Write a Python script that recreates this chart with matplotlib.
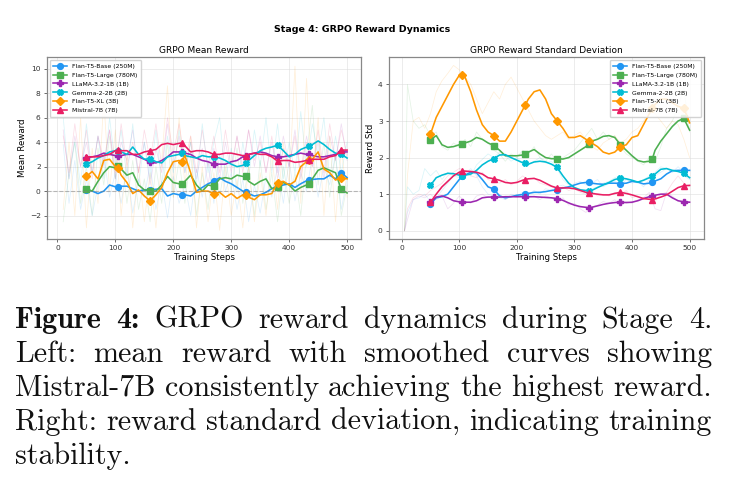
import numpy as np
import matplotlib
matplotlib.use("Agg")
import matplotlib.pyplot as plt
from matplotlib.transforms import IdentityTransform

# model names / styles
models = ["Flan-T5-Base (250M)", "Flan-T5-Large (780M)", "LLaMA-3.2-1B (1B)",
          "Gemma-2-2B (2B)", "Flan-T5-XL (3B)", "Mistral-7B (7B)"]
colors = ["#2196F3", "#4CAF50", "#9C27B0", "#00BCD4", "#FF9800", "#E91E63"]
markers = ["o", "s", "P", "X", "D", "^"]

# steps of the smoothed curves, markers every 55 steps
smooth_steps = [50, 60, 70, 80, 90, 100, 105, 110, 120, 130,
                140, 150, 160, 170, 180, 190, 200, 210, 215, 220,
                230, 240, 250, 260, 270, 280, 290, 300, 310, 320,
                325, 330, 340, 350, 360, 370, 380, 390, 400, 410,
                420, 430, 435, 440, 450, 460, 470, 480, 490, 500]
marker_steps = [50, 105, 160, 215, 270, 325, 380, 435, 490]

# smoothed mean reward
mean_base = [0.10, 0.00, -0.20, 0.00, 0.50, 0.35, 0.35, 0.40, 0.40, 0.20,
             0.00, 0.10, 0.10, 0.15, 0.20, -0.40, -0.20, -0.30, -0.35, -0.30,
             -0.40, 0.00, 0.30, 0.60, 0.80, 1.10, 0.80, 0.60, 0.30, 0.00,
             -0.10, -0.20, -0.40, -0.30, -0.10, 0.20, 0.40, 0.50, 0.60, 0.30,
             0.60, 0.85, 0.90, 0.95, 1.00, 1.00, 1.30, 1.00, 1.50, 1.10]
mean_large = [0.20, 0.00, 0.80, 1.50, 2.00, 1.90, 2.05, 1.80, 1.30, 1.50,
              0.50, 0.10, 0.00, 0.00, 0.50, 1.20, 0.70, 0.60, 0.60, 0.80,
              1.30, 0.50, 0.00, 0.50, 0.40, 1.00, 1.10, 1.00, 1.30, 1.20,
              1.20, 0.80, 0.50, 0.80, 1.00, 0.20, 0.30, 0.70, 0.50, 0.00,
              0.30, 0.50, 0.60, 1.00, 1.70, 1.90, 1.70, 1.50, 0.15, -0.15]
mean_llama = [2.70, 2.80, 2.90, 3.10, 3.00, 2.90, 2.90, 2.90, 3.00, 3.00,
              2.80, 2.60, 2.35, 2.30, 2.50, 2.80, 3.20, 3.20, 3.20, 3.10,
              3.00, 2.70, 2.50, 2.40, 2.20, 2.20, 2.20, 2.40, 2.50, 2.80,
              2.90, 3.00, 3.10, 3.20, 3.10, 2.90, 2.80, 2.80, 2.90, 3.00,
              3.10, 3.00, 3.00, 2.90, 2.80, 2.80, 2.90, 3.00, 3.20, 3.20]
mean_gemma = [2.20, 2.40, 2.70, 2.90, 3.20, 3.30, 3.30, 3.20, 3.00, 3.60,
              3.00, 2.60, 2.65, 2.40, 2.30, 2.80, 2.90, 3.00, 3.10, 2.90,
              2.80, 2.70, 2.90, 2.80, 2.80, 2.70, 2.50, 2.20, 2.00, 2.10,
              2.30, 2.50, 2.90, 3.30, 3.50, 3.60, 3.75, 3.30, 2.80, 3.00,
              3.40, 3.60, 3.70, 3.80, 4.10, 3.80, 3.40, 3.10, 3.00, 2.70]
mean_xl = [1.20, 1.60, 1.00, 2.50, 2.60, 2.00, 1.85, 1.30, 0.70, -0.20,
           0.10, -0.40, -0.80, -0.30, 0.30, 1.50, 2.40, 2.50, 2.40, 2.90,
           1.50, -0.10, 0.00, 0.00, -0.20, -0.10, -0.50, -0.20, -0.60, -0.30,
           -0.35, -0.50, -0.70, -0.30, -0.30, -0.20, 0.70, 0.80, 0.50, 0.80,
           2.00, 2.40, 2.50, 2.60, 3.20, 1.80, 1.50, 0.90, 1.10, 1.00]
mean_mistral = [2.80, 2.80, 2.80, 2.90, 3.00, 3.30, 3.35, 3.30, 3.30, 3.00,
                3.00, 3.20, 3.30, 3.40, 3.80, 3.90, 3.80, 3.90, 3.95, 3.70,
                3.20, 3.30, 3.30, 3.20, 3.00, 3.00, 3.10, 3.10, 3.00, 2.90,
                2.90, 3.00, 3.10, 3.00, 3.00, 2.80, 2.45, 2.50, 2.50, 2.35,
                2.40, 2.50, 2.50, 2.60, 2.60, 2.60, 2.80, 2.90, 3.35, 3.35]

# smoothed reward std
std_base = [0.73, 0.90, 0.93, 1.00, 1.20, 1.40, 1.49, 1.52, 1.60, 1.58,
            1.40, 1.20, 1.14, 0.95, 0.90, 0.93, 0.97, 0.99, 1.00, 1.02,
            1.05, 1.05, 1.07, 1.10, 1.12, 1.17, 1.20, 1.25, 1.30, 1.32,
            1.32, 1.30, 1.28, 1.27, 1.30, 1.30, 1.29, 1.30, 1.35, 1.33,
            1.28, 1.30, 1.34, 1.36, 1.42, 1.55, 1.64, 1.65, 1.65, 1.65]
std_large = [2.49, 2.60, 2.35, 2.28, 2.30, 2.35, 2.37, 2.40, 2.45, 2.55,
             2.50, 2.40, 2.33, 2.20, 2.05, 2.05, 2.05, 2.07, 2.09, 2.15,
             2.22, 2.10, 2.00, 1.97, 1.97, 1.96, 2.00, 2.10, 2.20, 2.30,
             2.37, 2.45, 2.50, 2.58, 2.60, 2.55, 2.35, 2.20, 2.05, 1.92,
             1.88, 1.90, 1.95, 2.20, 2.45, 2.65, 2.85, 3.00, 3.07, 2.75]
std_llama = [0.78, 0.92, 0.95, 0.90, 0.82, 0.79, 0.79, 0.78, 0.78, 0.82,
             0.90, 0.92, 0.92, 0.92, 0.93, 0.93, 0.93, 0.93, 0.93, 0.93,
             0.93, 0.92, 0.91, 0.90, 0.88, 0.83, 0.76, 0.70, 0.66, 0.64,
             0.63, 0.64, 0.68, 0.72, 0.75, 0.77, 0.78, 0.77, 0.78, 0.82,
             0.88, 0.93, 0.95, 0.97, 1.00, 1.00, 0.90, 0.82, 0.79, 0.78]
std_gemma = [1.24, 1.45, 1.52, 1.57, 1.56, 1.52, 1.51, 1.52, 1.55, 1.65,
             1.80, 1.90, 1.97, 2.07, 2.08, 2.00, 1.93, 1.86, 1.84, 1.82,
             1.88, 1.90, 1.88, 1.82, 1.73, 1.50, 1.30, 1.18, 1.12, 1.10,
             1.10, 1.10, 1.18, 1.25, 1.32, 1.40, 1.44, 1.42, 1.38, 1.33,
             1.38, 1.45, 1.50, 1.55, 1.68, 1.70, 1.65, 1.62, 1.57, 1.45]
std_xl = [2.64, 3.10, 3.40, 3.70, 4.00, 4.25, 4.25, 4.20, 3.80, 3.30,
          2.90, 2.70, 2.60, 2.45, 2.45, 2.70, 3.00, 3.30, 3.45, 3.60,
          3.80, 3.85, 3.60, 3.20, 3.00, 2.80, 2.55, 2.55, 2.60, 2.50,
          2.45, 2.40, 2.30, 2.15, 2.10, 2.15, 2.30, 2.35, 2.55, 2.60,
          2.90, 3.20, 3.35, 3.45, 3.60, 3.60, 3.50, 3.40, 3.35, 2.95]
std_mistral = [0.78, 1.00, 1.20, 1.35, 1.50, 1.60, 1.63, 1.63, 1.62, 1.60,
               1.55, 1.45, 1.42, 1.38, 1.32, 1.30, 1.32, 1.38, 1.40, 1.42,
               1.43, 1.38, 1.30, 1.22, 1.17, 1.17, 1.17, 1.15, 1.10, 1.05,
               1.03, 1.02, 1.00, 0.98, 0.98, 1.02, 1.05, 1.02, 0.98, 0.93,
               0.88, 0.86, 0.85, 0.87, 0.92, 0.98, 1.08, 1.18, 1.23, 1.24]

# raw (unsmoothed) mean reward, every 10 steps
raw_steps = list(range(10, 501, 10))
raw_base = [3.8, -1.0, 2.5, -1.5, 1.0, -2.0, 0.5, 3.0, -0.5, 1.5,
            -1.0, 2.0, -1.8, 1.0, -0.5, 2.2, -1.5, 0.8, -2.2, 1.2,
            -1.0, 0.5, -2.0, 1.8, -0.5, 2.5, -1.0, 3.0, 0.0, 1.5,
            -1.5, 1.0, -2.5, 0.5, -1.8, 1.2, -0.5, 2.0, -1.0, 2.5,
            -0.8, 1.5, 0.0, 2.8, -0.5, 2.0, 0.5, 3.0, -1.5, 1.0]
raw_large = [-2.5, 1.5, 4.0, -1.0, 2.0, -2.0, 3.5, 0.5, 4.5, 1.0,
             3.0, -1.0, 2.5, -1.5, 1.0, -2.5, 2.0, -1.0, 4.0, -0.5,
             2.5, -1.0, 3.0, -2.0, 1.5, -1.5, 3.0, -0.5, 2.5, 0.0,
             3.5, -1.0, 2.0, -2.0, 2.5, -1.5, 1.5, -2.5, 2.0, -1.0,
             1.5, -2.0, 3.0, 7.0, 0.5, 4.0, -0.5, 3.0, -2.0, 0.5]
raw_llama = [5.0, 1.0, 4.5, 2.0, 4.0, 1.5, 4.5, 2.0, 5.0, 1.0,
             4.0, 2.5, 5.0, 1.5, 4.0, 0.5, 3.5, 1.5, 5.5, 2.0,
             4.5, 1.5, 4.0, 1.0, 3.5, 0.5, 3.5, 1.0, 4.0, 1.5,
             4.5, 2.0, 5.0, 2.0, 4.5, 1.5, 4.0, 1.5, 4.5, 2.0,
             5.0, 1.5, 4.5, 2.0, 4.0, 1.0, 4.5, 2.5, 5.5, 2.5]
raw_gemma = [6.0, 1.0, 4.0, 0.5, 5.5, 1.5, 4.5, 1.0, 6.0, 2.0,
             5.0, 1.0, 5.5, 0.5, 4.0, 1.0, 5.0, 0.5, 4.5, 1.5,
             5.0, 1.5, 4.0, 0.5, 5.5, 1.5, 4.0, 6.0, 1.0, 3.5,
             0.0, 4.0, 1.0, 5.0, 2.0, 6.0, 1.5, 5.5, 1.0, 4.0,
             1.5, 6.5, 2.0, 5.5, 3.0, 6.0, 1.0, 4.5, 1.5, 4.0]
raw_xl = [-1.5, 4.0, -2.0, 6.0, -3.0, 3.5, -1.0, 7.5, 0.0, 5.0,
          -2.0, 3.0, -3.0, 2.0, -2.5, 1.5, -3.0, 2.5, 8.6, -0.5,
          6.0, 0.5, 4.5, -3.0, 2.0, -2.5, 1.5, -3.2, 2.0, -2.0,
          1.0, -3.0, 2.0, -2.5, 1.5, -2.0, 3.0, -1.5, 4.0, 0.5,
          10.2, -1.0, 9.2, 0.0, 6.0, -2.0, 4.5, -2.5, 3.5, -0.5]
raw_mistral = [4.5, 1.5, 5.5, 2.0, 5.0, 1.0, 4.5, 2.5, 5.0, 1.5,
               5.5, 2.0, 4.0, 1.5, 5.0, 2.5, 5.5, 2.0, 6.0, 3.0,
               5.5, 2.5, 4.5, 1.5, 5.0, 2.0, 4.5, 1.5, 5.0, 2.0,
               4.5, 1.5, 5.0, 2.5, 4.0, 1.5, 4.5, 1.0, 3.5, 2.0,
               4.5, 1.0, 4.0, 2.0, 5.0, 1.5, 5.5, 2.5, 5.0, 3.0]

# raw reward std
raw_std_steps = [5] + list(range(10, 501, 10))
rstd_base = [0.0, 0.5, 0.85, 0.9, 1.0, 0.8, 0.9, 1.1, 1.3, 1.5, 1.6,
             1.55, 1.7, 1.5, 1.2, 1.0, 0.95, 0.9, 0.85, 1.0, 0.95,
             1.05, 1.0, 1.1, 1.0, 1.15, 1.1, 1.2, 1.25, 1.15, 1.3,
             1.35, 1.25, 1.3, 1.4, 1.2, 1.3, 1.35, 1.25, 1.4, 1.3,
             1.35, 1.2, 1.4, 1.5, 1.6, 1.7, 1.6, 1.75, 1.6, 1.65]
rstd_large = [0.0, 4.0, 3.0, 2.8, 2.9, 2.6, 2.7, 2.3, 2.2, 2.4, 2.3,
              2.5, 2.3, 2.7, 2.5, 2.4, 2.2, 2.1, 1.9, 2.1, 2.0,
              2.2, 2.1, 2.3, 2.0, 1.9, 2.1, 1.9, 2.0, 2.1, 2.2,
              2.4, 2.6, 2.8, 2.5, 2.7, 2.5, 2.6, 2.3, 2.1, 2.0,
              1.9, 1.8, 2.0, 1.9, 2.3, 2.8, 3.0, 3.4, 3.9, 2.7]
rstd_llama = [0.0, 0.3, 0.85, 0.95, 0.9, 1.0, 0.85, 0.95, 0.6, 0.75, 0.95,
              0.8, 0.75, 0.95, 1.0, 0.9, 0.95, 1.0, 0.85, 0.95, 0.9,
              1.0, 0.9, 0.95, 0.85, 0.95, 0.9, 0.8, 0.9, 0.7, 0.75,
              0.6, 0.5, 0.65, 0.7, 0.8, 0.75, 0.85, 0.7, 0.8, 0.75,
              0.85, 0.9, 1.05, 0.6, 0.55, 1.05, 0.95, 0.8, 0.75, 0.8]
rstd_gemma = [0.0, 1.2, 1.0, 1.1, 1.7, 1.5, 1.65, 1.4, 1.6, 1.5, 1.45,
              1.55, 1.5, 1.8, 1.95, 2.1, 2.0, 2.15, 2.05, 1.9, 2.0,
              1.85, 1.8, 1.9, 2.0, 1.85, 1.9, 1.7, 1.4, 1.25, 1.15,
              1.1, 1.05, 1.15, 1.2, 1.3, 1.35, 1.45, 1.5, 1.4, 1.35,
              1.3, 1.4, 1.5, 1.6, 1.75, 1.7, 1.6, 1.65, 1.5, 1.4]
rstd_xl = [0.0, 1.5, 3.0, 3.1, 2.8, 3.2, 3.8, 4.1, 4.3, 4.52, 4.4,
           4.2, 4.0, 3.6, 3.2, 3.5, 3.8, 3.6, 4.0, 4.2, 3.9,
           3.6, 3.3, 3.0, 2.8, 2.6, 2.5, 2.6, 2.7, 2.5, 2.6,
           2.7, 2.5, 2.3, 2.2, 2.4, 2.5, 2.6, 2.4, 2.5, 2.7,
           2.8, 3.0, 3.3, 3.2, 3.0, 2.8, 3.0, 2.9, 2.5, 2.0]
rstd_mistral = [0.0, 0.6, 0.9, 1.0, 0.95, 1.1, 1.2, 1.3, 1.5, 1.6, 1.7,
                1.65, 1.5, 1.45, 1.6, 1.4, 1.35, 1.3, 1.4, 1.25, 1.35,
                1.5, 1.4, 1.45, 1.3, 1.25, 1.2, 1.15, 1.2, 1.1, 1.15,
                1.05, 1.0, 1.1, 0.95, 1.0, 0.95, 1.05, 1.0, 1.1, 0.9,
                0.95, 0.85, 0.9, 0.8, 1.0, 1.05, 1.3, 1.5, 1.3, 1.2]

mean_smooth = [mean_base, mean_large, mean_llama, mean_gemma, mean_xl, mean_mistral]
std_smooth = [std_base, std_large, std_llama, std_gemma, std_xl, std_mistral]
mean_raw = [raw_base, raw_large, raw_llama, raw_gemma, raw_xl, raw_mistral]
std_raw = [rstd_base, rstd_large, rstd_llama, rstd_gemma, rstd_xl, rstd_mistral]

W, H = 730, 487
fig = plt.figure(figsize=(W / 100, H / 100), dpi=100)
fig.patch.set_facecolor("white")

ax1 = fig.add_axes([47 / W, 1 - 239 / H, 314 / W, 182 / H])
ax2 = fig.add_axes([389 / W, 1 - 239 / H, 315 / W, 182 / H])

mk_idx = [i for i, s in enumerate(smooth_steps) if s in marker_steps]

for ax, raw_x, raws, smooths in [(ax1, raw_steps, mean_raw, mean_smooth),
                                  (ax2, raw_std_steps, std_raw, std_smooth)]:
    for i in range(len(models)):
        ax.plot(raw_x, raws[i], color=colors[i], alpha=0.15, lw=0.55)
    for i in range(len(models)):
        ax.plot(smooth_steps, smooths[i], color=colors[i], lw=1.15,
                marker=markers[i], markevery=mk_idx, markersize=4.2,
                label=models[i])
    ax.grid(True, color="#dddddd", lw=0.5, alpha=0.8)
    ax.set_axisbelow(True)
    ax.tick_params(labelsize=5.4, length=2.5, width=0.5, pad=2, colors="#333333")
    for sp in ax.spines.values():
        sp.set_color("#888888")
        sp.set_linewidth(0.9)
    ax.set_xlabel("Training Steps", fontsize=6.2, labelpad=1.5)
    ax.set_xticks([0, 100, 200, 300, 400, 500])

ax1.axhline(0, color="gray", ls="--", lw=0.8, alpha=0.5)
ax1.set_xlim(-18, 524)
ax1.set_ylim(-3.91, 10.95)
ax1.set_yticks([-2, 0, 2, 4, 6, 8, 10])
ax1.set_ylabel("Mean Reward", fontsize=6.2, labelpad=2)
ax1.set_title("GRPO Mean Reward", fontsize=6.5, pad=3)
ax1.legend(loc="upper left", fontsize=4.4, handlelength=2.3, labelspacing=0.6,
           borderpad=0.55, framealpha=0.85, edgecolor="#cccccc")

ax2.set_xlim(-22, 525)
ax2.set_ylim(-0.226, 4.75)
ax2.set_yticks([0, 1, 2, 3, 4])
ax2.set_ylabel("Reward Std", fontsize=6.2, labelpad=2)
ax2.set_title("GRPO Reward Standard Deviation", fontsize=6.5, pad=3)
ax2.legend(loc="upper right", fontsize=4.4, handlelength=2.3, labelspacing=0.6,
           borderpad=0.55, framealpha=0.85, edgecolor="#cccccc")

fig.text(362 / W, 1 - 30 / H, "Stage 4: GRPO Reward Dynamics", fontsize=6.8,
         fontweight="bold", ha="center", va="center")

# caption, justified like the paper
caption = [
    [("Figure", "cmb10"), ("4:", "cmb10"), ("GRPO", "cmr10"), ("reward", "cmr10"),
     ("dynamics", "cmr10"), ("during", "cmr10"), ("Stage", "cmr10"), ("4.", "cmr10")],
    [(w, "cmr10") for w in "Left: mean reward with smoothed curves showing".split()],
    [(w, "cmr10") for w in "Mistral-7B consistently achieving the highest reward.".split()],
    [(w, "cmr10") for w in "Right: reward standard deviation, indicating training".split()],
    [("stability.", "cmr10")],
]
baselines = [328, 362, 396, 430, 464]
x_left, x_right = 15, 712

fig.canvas.draw()
rend = fig.canvas.get_renderer()

# pick size so the tightest line fits with normal word spacing
probe = 20
ws = []
for w, fam in caption[2]:
    t = fig.text(0, 0, w, fontsize=probe, family=fam, transform=IdentityTransform())
    ws.append(t.get_window_extent(rend).width)
    t.remove()
gap_em = 0.30
scale = (x_right - x_left) / (sum(ws) + (len(ws) - 1) * gap_em * probe * 100 / 72)
size = probe * scale

for li, words in enumerate(caption):
    y = H - baselines[li]
    texts, widths = [], []
    for w, fam in words:
        t = fig.text(0, y, w, fontsize=size, family=fam, va="baseline",
                     transform=IdentityTransform(), color="#111111")
        texts.append(t)
        widths.append(t.get_window_extent(rend).width)
    if li == len(caption) - 1:
        gap = gap_em * size * 100 / 72
    else:
        gap = (x_right - x_left - sum(widths)) / (len(words) - 1)
    x = x_left
    for t, wd in zip(texts, widths):
        t.set_x(x)
        x += wd + gap

fig.savefig("out.png", dpi=100)
